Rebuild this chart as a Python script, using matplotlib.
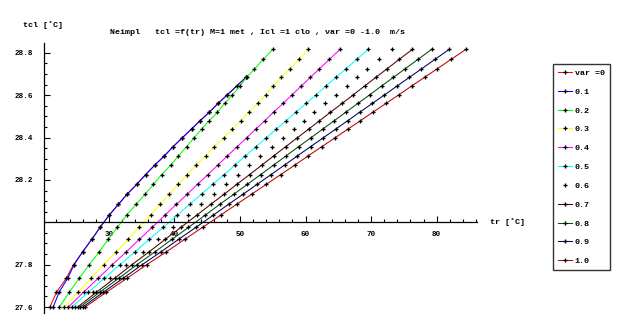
import matplotlib
matplotlib.use("Agg")
import matplotlib.pyplot as plt
from matplotlib.ticker import MultipleLocator

plt.rcParams['font.family'] = ['Liberation Mono', 'DejaVu Sans Mono']
plt.rcParams['font.weight'] = 'bold'

# ---------------- data ----------------
tcl_rows = [27.60, 27.67, 27.736, 27.80, 27.861, 27.92, 27.976, 28.034, 28.085,
            28.133, 28.179, 28.225, 28.27, 28.313, 28.357, 28.399, 28.44, 28.479,
            28.519, 28.561, 28.601, 28.643, 28.684, 28.723, 28.769, 28.816]

tr_v00 = [21.0, 22.0, 23.5, 24.6, 26.0, 27.4, 28.65, 30.05, 31.45, 32.8, 34.25, 35.6,
          37.0, 38.45, 39.8, 41.2, 42.6, 43.9, 45.3, 46.65, 48.05, 49.5, 50.9]
tr_v01 = [21.5, 22.4, 23.7, 24.7, 26.0, 27.4, 28.65, 30.05, 31.45, 32.8, 34.25, 35.6,
          37.0, 38.45, 39.8, 41.2, 42.6, 43.9, 45.3, 46.65, 48.05, 49.5, 50.9]
tr_v02 = [22.45, 23.95, 25.5, 27.0, 28.55, 29.9, 31.3, 32.7, 34.15, 35.55, 36.8, 38.05,
          39.45, 40.6, 41.85, 43.0, 44.15, 45.3, 46.55, 47.65, 48.85, 50.0, 51.0, 52.2,
          53.55, 55.0]
tr_v03 = [23.2, 25.28, 27.31, 29.23, 31.15, 32.95, 34.6, 36.35, 37.85, 39.2, 40.6, 41.95,
          43.3, 44.75, 46.05, 47.5, 48.85, 50.1, 51.35, 52.7, 53.9, 55.1, 56.25, 57.6,
          59.0, 60.42]
tr_v04 = [23.81, 26.13, 28.38, 30.52, 32.67, 34.66, 36.59, 38.57, 40.3, 41.96, 43.52,
          45.09, 46.62, 48.07, 49.57, 51.02, 52.42, 53.76, 55.11, 56.56, 57.93, 59.34,
          60.74, 62.08, 63.64, 65.25]
tr_v05 = [24.33, 26.86, 29.32, 31.66, 34.0, 36.18, 38.29, 40.45, 42.33, 44.14, 45.84,
          47.57, 49.24, 50.82, 52.45, 54.03, 55.56, 57.02, 58.5, 60.08, 61.57, 63.12,
          64.65, 66.11, 67.81, 69.57]
tr_v06 = [24.83, 27.53, 30.16, 32.66, 35.15, 37.48, 39.73, 42.04, 44.05, 45.98, 47.8,
          49.64, 51.42, 53.11, 54.86, 56.55, 58.18, 59.74, 61.32, 63.0, 64.6, 66.25,
          67.88, 69.44, 71.26, 73.14]
tr_v07 = [25.24, 28.1, 30.87, 33.51, 36.15, 38.61, 40.98, 43.42, 45.55, 47.59, 49.51,
          51.45, 53.34, 55.12, 56.97, 58.75, 60.48, 62.12, 63.79, 65.57, 67.26, 69.0,
          70.73, 72.37, 74.3, 76.28]
tr_v08 = [25.59, 28.59, 31.51, 34.28, 37.05, 39.64, 42.14, 44.7, 46.93, 49.08, 51.1,
          53.14, 55.13, 57.0, 58.94, 60.82, 62.63, 64.36, 66.11, 67.99, 69.76, 71.59,
          73.4, 75.13, 77.16, 79.24]
tr_v09 = [26.01, 29.14, 32.18, 35.07, 37.96, 40.65, 43.26, 45.93, 48.25, 50.49, 52.6,
          54.73, 56.79, 58.74, 60.76, 62.72, 64.61, 66.41, 68.24, 70.19, 72.04, 73.95,
          75.84, 77.64, 79.75, 81.92]
tr_v10 = [26.36, 29.61, 32.77, 35.77, 38.78, 41.58, 44.29, 47.06, 49.48, 51.8, 53.99,
          56.21, 58.35, 60.38, 62.48, 64.51, 66.48, 68.35, 70.25, 72.28, 74.2, 76.19,
          78.15, 80.02, 82.21, 84.47]

series_labels = ['var =0', '0.1', '0.2', '0.3', '0.4', '0.5', '0.6', '0.7', '0.8', '0.9', '1.0']
series_tr = [tr_v00, tr_v01, tr_v02, tr_v03, tr_v04, tr_v05, tr_v06, tr_v07, tr_v08,
             tr_v09, tr_v10]
series_colors = ['#ff0000', '#0000ff', '#00ff00', '#ffff00', '#ff00ff', '#00ffff', None,
                 '#500000', '#005000', '#000060', '#c00000']

x_ticks = [30, 40, 50, 60, 70, 80]
y_ticks = [27.6, 27.8, 28.2, 28.4, 28.6, 28.8]

# ---------------- figure ----------------
W, H = 623, 334
fig = plt.figure(figsize=(W / 100, H / 100), dpi=100)
ax = fig.add_axes([44 / W, 21 / H, 433 / W, 270 / H])
ax.set_xlim(20.1, 86.15)
ax.set_ylim(27.572, 28.846)

mk = dict(marker='P', ms=2.9, mfc='black', mec='black', mew=0)
handles = []
for tr, col, lab in zip(series_tr, series_colors, series_labels):
    y = tcl_rows[:len(tr)]
    if col is None:
        h, = ax.plot(tr, y, linestyle='none', label=lab, **mk)
    else:
        h, = ax.plot(tr, y, color=col, lw=0.75, label=lab, **mk)
    handles.append(h)

for s in ['top', 'right']:
    ax.spines[s].set_visible(False)
ax.spines['bottom'].set_position(('data', 28.0))
ax.spines['left'].set_linewidth(0.9)
ax.spines['bottom'].set_linewidth(0.9)

ax.set_xticks(x_ticks, [str(v) for v in x_ticks])
ax.set_yticks(y_ticks, ['%.1f' % v for v in y_ticks])
ax.xaxis.set_minor_locator(MultipleLocator(2))
ax.yaxis.set_minor_locator(MultipleLocator(0.05))
ax.tick_params(which='major', direction='in', length=4, width=0.8, labelsize=5.5)
ax.tick_params(which='minor', direction='in', length=2.5, width=0.8)
ax.tick_params(axis='y', which='major', pad=8)
ax.tick_params(axis='x', which='major', pad=6)

fig.text(257 / W, 1 - 32 / H,
         'Neimpl   tcl =f(tr) M=1 met , Icl =1 clo , var =0 -1.0  m/s',
         ha='center', va='center', fontsize=6)
fig.text(43 / W, 1 - 25 / H, 'tcl [˚C]', ha='center', va='center', fontsize=6)
fig.text(490 / W, 1 - 222 / H, 'tr [˚C]', ha='left', va='center', fontsize=6)

leg = ax.legend(handles=handles, loc='upper left',
                bbox_to_anchor=(553 / W, 1 - 64 / H), bbox_transform=fig.transFigure,
                fontsize=6, frameon=True, fancybox=False, shadow=False,
                borderaxespad=0, borderpad=0.6, labelspacing=1.32, handlelength=1.7,
                handletextpad=0.3, numpoints=1)
leg.get_frame().set_edgecolor('black')
leg.get_frame().set_linewidth(1.0)

fig.savefig('out.png', dpi=100, facecolor='white')
